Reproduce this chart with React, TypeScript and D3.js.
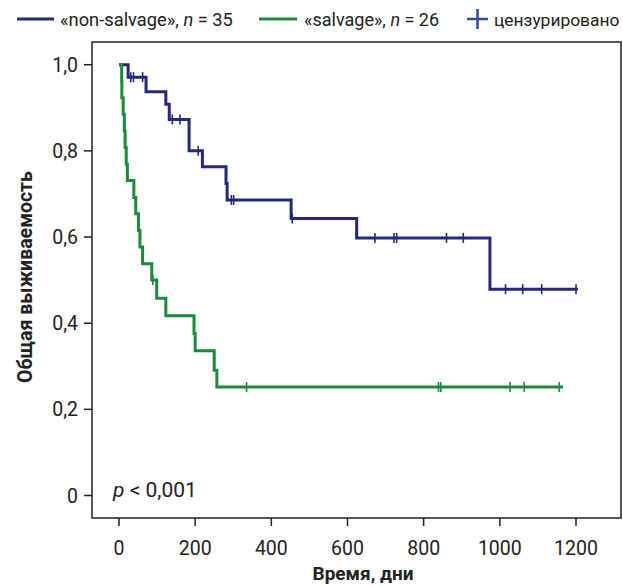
import React from "react";
import * as d3 from "d3";

const blueTimes = [0, 24, 71, 123, 132, 184, 219, 281, 284, 452, 624, 974];
const blueSurv = [1, 0.971, 0.937, 0.908, 0.873, 0.8, 0.763, 0.724, 0.686, 0.643, 0.598, 0.479];
const blueEnd = 1205;
const blueCensor = [31, 38, 62, 140, 160, 208, 295, 301, 455, 672, 722, 729, 860, 904, 1015, 1060, 1110, 1200];

const greenTimes = [0, 7, 7.5, 11, 14, 16, 19, 22, 39, 44, 51, 55, 62, 86, 99, 123, 197, 200, 250, 257];
const greenSurv = [1, 0.962, 0.923, 0.885, 0.846, 0.808, 0.769, 0.731, 0.692, 0.654, 0.615, 0.577, 0.538, 0.5, 0.458, 0.417, 0.376, 0.336, 0.291, 0.252];
const greenEnd = 1166;
const greenCensor = [89, 335, 839, 845, 1027, 1064, 1156];

const xTicks = [0, 200, 400, 600, 800, 1000, 1200];
const yTicks = [0, 0.2, 0.4, 0.6, 0.8, 1.0];
const yTickLabels = ["0", "0,2", "0,4", "0,6", "0,8", "1,0"];

const BLUE = "#232a7d";
const GREEN = "#1c8a3b";
const CROSS = "#2d4ca6";
const FONT = "Roboto, 'Open Sans', sans-serif";

const box = { left: 92, top: 42, right: 621, bottom: 518 };

export default function App() {
  const x = d3.scaleLinear().domain([0, 1200]).range([119, 576]);
  const y = d3.scaleLinear().domain([0, 1]).range([495.5, 64.7]);

  const line = d3
    .line<[number, number]>()
    .x((d) => x(d[0]))
    .y((d) => y(d[1]))
    .curve(d3.curveStepAfter);

  const mk = (times: number[], surv: number[], end: number): [number, number][] => {
    const pts: [number, number][] = times.map((t, i) => [t, surv[i]]);
    pts.push([end, surv[surv.length - 1]]);
    return pts;
  };
  const survAt = (times: number[], surv: number[], t: number) => {
    let s = surv[0];
    for (let i = 0; i < times.length; i++) if (times[i] <= t) s = surv[i];
    return s;
  };

  const series = [
    { times: blueTimes, surv: blueSurv, end: blueEnd, censor: blueCensor, color: BLUE },
    { times: greenTimes, surv: greenSurv, end: greenEnd, censor: greenCensor, color: GREEN },
  ];

  return (
    <svg width={623} height={586} style={{ display: "block", position: "absolute", left: 0, top: 0, background: "#fff" }} fontFamily={FONT}>
      <rect x={0} y={0} width={623} height={586} fill="#fff" />
      {/* legend */}
      <line x1={17} x2={54} y1={19} y2={19} stroke={BLUE} strokeWidth={3} />
      <text x={60} y={25.5} fontSize={18.3} fill="#222">
        «non-salvage», <tspan fontStyle="italic">n</tspan> = 35
      </text>
      <line x1={259} x2={297} y1={19} y2={19} stroke={GREEN} strokeWidth={3} />
      <text x={304} y={25.5} fontSize={18} fill="#222">
        «salvage», <tspan fontStyle="italic">n</tspan> = 26
      </text>
      <line x1={467} x2={488} y1={19} y2={19} stroke={CROSS} strokeWidth={2.5} />
      <line x1={477.5} x2={477.5} y1={9} y2={29} stroke={CROSS} strokeWidth={2.5} />
      <text x={494} y={25.5} fontSize={17.4} fill="#222">
        цензурировано
      </text>

      {/* box */}
      <rect x={box.left} y={box.top} width={box.right - box.left} height={box.bottom - box.top} fill="none" stroke="#222" strokeWidth={1.5} />

      {/* y ticks */}
      {yTicks.map((v, i) => (
        <g key={"y" + i}>
          <line x1={84} x2={box.left} y1={y(v)} y2={y(v)} stroke="#222" strokeWidth={1.5} />
          <text x={78} y={y(v) + 7} textAnchor="end" fontSize={19.5} fill="#222">
            {yTickLabels[i]}
          </text>
        </g>
      ))}
      {/* x ticks */}
      {xTicks.map((v) => (
        <g key={"x" + v}>
          <line x1={x(v)} x2={x(v)} y1={box.bottom} y2={box.bottom + 8} stroke="#222" strokeWidth={1.5} />
          <text x={x(v)} y={555} textAnchor="middle" fontSize={19.5} fill="#222">
            {v}
          </text>
        </g>
      ))}

      <text x={363} y={580} textAnchor="middle" fontSize={19} fontWeight="bold" fill="#222">
        Время, дни
      </text>
      <text transform="translate(32,277) rotate(-90)" textAnchor="middle" fontSize={19.5} fontWeight="bold" fill="#222">
        Общая выживаемость
      </text>
      <text x={113} y={497} fontSize={21} fill="#222">
        <tspan fontStyle="italic">p</tspan> &lt; 0,001
      </text>

      {series.map((s, k) => (
        <g key={"s" + k}>
          <path d={line(mk(s.times, s.surv, s.end)) || ""} fill="none" stroke={s.color} strokeWidth={3} />
          {s.censor.map((t, j) => {
            const cy = y(survAt(s.times, s.surv, t));
            return <line key={j} x1={x(t)} x2={x(t)} y1={cy - 5} y2={cy + 5} stroke={s.color} strokeWidth={1.6} />;
          })}
        </g>
      ))}
    </svg>
  );
}
